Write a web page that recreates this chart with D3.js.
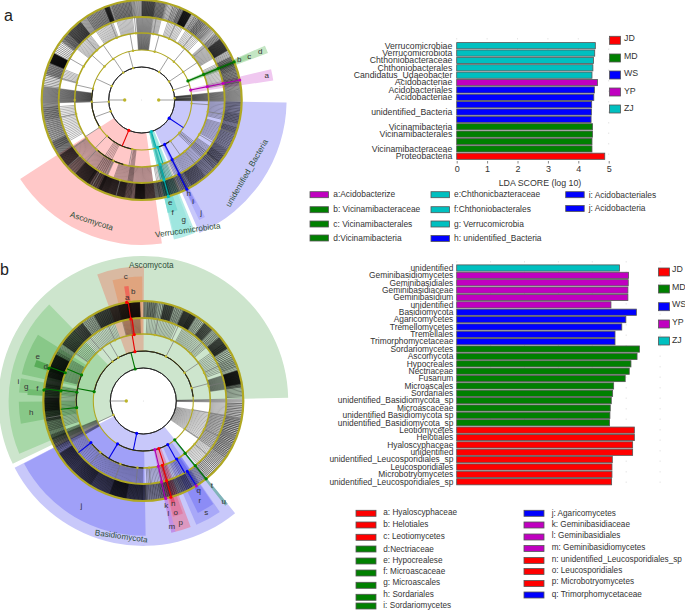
<!DOCTYPE html>
<html><head><meta charset="utf-8">
<script src="https://cdn.jsdelivr.net/npm/d3@7/dist/d3.min.js"></script>
<style>html,body{margin:0;padding:0;background:#fff}svg{display:block}text{font-family:"Liberation Sans",Arial,sans-serif}</style>
</head><body><svg id="c" width="685" height="610"></svg>
<script>
// ---------- bar data ----------
const groupColors = {JD:"#ff0000",MD:"#008000",WS:"#0000ff",YP:"#c000c0",ZJ:"#00c0c0"};
const groupNames = ["JD","MD","WS","YP","ZJ"];
const barLabelsA = ["Verrucomicrobiae","Verrucomicrobiota","Chthoniobacteraceae","Chthoniobacterales","Candidatus_Udaeobacter","Acidobacteriae","Acidobacteriales","Acidobacteriae","","unidentified_Bacteria","","Vicinamibacteria","Vicinamibacterales","","Vicinamibacteraceae","Proteobacteria"];
const barValuesA = [4.56,4.54,4.50,4.48,4.45,4.63,4.53,4.51,4.44,4.43,4.42,4.47,4.47,4.45,4.45,4.87];
const barGroupsA = ["ZJ","ZJ","ZJ","ZJ","ZJ","YP","WS","WS","WS","WS","WS","MD","MD","MD","MD","JD"];
const barLabelsB = ["unidentified","Geminibasidiomycetes","Geminibasidiales","Geminibasidiaceae","Geminibasidium","unidentified","Basidiomycota","Agaricomycetes","Tremellomycetes","Tremellales","Trimorphomycetaceae","Sordariomycetes","Ascomycota","Hypocreales","Nectriaceae","Fusarium","Microascales","Sordariales","unidentified_Basidiomycota_sp","Microascaceae","unidentified Basidiomycota sp","unidentified_Basidiomycota_sp","Leotiomycetes","Helotiales","Hyaloscyphaceae","unidentified","unidentified_Leucosporidiales_sp","Leucosporidiales","Microbotryomycetes","unidentified_Leucosporidiales_sp"];
const barValuesB = [4.80,5.07,5.06,5.05,5.05,4.55,5.30,4.99,4.87,4.67,4.67,5.39,5.32,5.14,5.09,4.97,4.63,4.60,4.56,4.53,4.52,4.51,5.24,5.24,5.19,5.19,4.59,4.58,4.58,4.57];
const barGroupsB = ["ZJ","YP","YP","YP","YP","YP","WS","WS","WS","WS","WS","MD","MD","MD","MD","MD","MD","MD","MD","MD","MD","MD","JD","JD","JD","JD","JD","JD","JD","JD"];
const axisTicksA = [0,1,2,3,4,5];
const axisTicksB = [0,1,2,3,4,5,6];
const legendA = [["a:Acidobacterize","YP"],["b: Vicinamibacteraceae","MD"],["c: Vicinamibacterales","MD"],["d:Vicinamibacteria","MD"],["e:Chthonicbazteraceae","ZJ"],["f:Chthoniobacterales","ZJ"],["g: Verrucomicrobia","ZJ"],["h: unidentified_Bacteria","WS"],["i: Acidobacteriales","WS"],["j: Acidobacteria","WS"]];
const legendB = [["a: Hyaloscyphaceae","JD"],["b: Helotiales","JD"],["c: Leotiomycetes","JD"],["d:Nectriaceae","MD"],["e: Hypocrealese","MD"],["f: Microascaceae","MD"],["g: Microascales","MD"],["h: Sordariales","MD"],["i: Sordariomycetes","MD"],["j: Agaricomycetes","WS"],["k: Geminibasidiaceae","YP"],["l: Geminibasidiales","YP"],["m: Geminibasidiomycetes","YP"],["n: unidentified_Leucosporidiales_sp","JD"],["o: Leucosporidiales","JD"],["p: Microbotryomycetes","JD"],["q: Trimorphomycetaceae","WS"]];

// ---------- cladogram data (degrees clockwise from north; level = ring) ----------
// [start, end, level where lines start, outer level, fill, opacity]
const sectorsA = [
 [91,156.5,1,7.7,"#c8c8fa",1],[172,237,1,7.7,"#ffc8c8",1],[158,167,1,7.6,"#b4ece8",1],[159,166.5,1,7.3,"#9fe6df",1],
 [76.6,81.6,2,7,"#f0c8f0",1],[66.2,69.6,2,7.1,"#c4e6c4",1],[66.7,69,2,6,"#a4d8a4",1],[67.2,68.4,2,5,"#5aa85a",1],
 [162,167,1,6,"#7cdcd4",1],[163.4,165.6,1,5.1,"#3cbcb4",1],
 [151.6,154.4,2,7,"#b0b0fa",1],[152.2,154,2,6,"#9090f4",1],[152.8,153.6,2,5,"#6060f0",1]];
const sectorsB = [
 [-115.7,88.7,1,7.7,"#cde5cd",1],[140.7,242.6,1,7.7,"#c8c8fa",1],
 [179,242.3,2,7.1,"#a0a0f8",1],[145.4,156.8,2,7.1,"#a8a8f8",1],[145.8,154,3,6.5,"#8c8cf6",1],[147,149.5,3,5.4,"#7070f0",1],
 [159.4,166.7,2,7.1,"#dc98c0",1],[160.6,165.6,3,6.2,"#e07098",.7],[162.6,164.6,3,5.4,"#e04060",.7],
 [166.2,168,2,7.1,"#c090e8",1],[140.6,142,2,7,"#80b4b8",1],
 [-20,0.3,2,7.1,"#d9b9a1",1],[-14.3,-0.5,3,6.5,"#e0a078",.85],[-9.5,-7.3,3,6,"#ee6a5a",1],
 [247,315.7,2,7.1,"#a8d8a8",1],[282.4,302.2,3,6.5,"#88c888",1],[287.5,291,4,5.9,"#58ac58",1],[273.9,280.5,3,6.5,"#88c888",1],[273,276,4,6,"#70bc70",1],[259.5,269.7,3,6.5,"#88c888",1]];
// [start, end, number of lines, level they start from]
const fansA = [[0,8,22,4],[8,15,14,4],[15,22,9,4],[22,25,7,4],[25,30,40,4],[30,35,8,4],[35,40,13,4],[40,46,12,4],[46,52,9,4],[52,60,40,4],[60,64,6,4],[64,72,20,4],[72,84,24,4],[91,98,10,4],[98,110,24,4],[110,120,15,4],[120,130,30,4],[130,140,20,4],[140,150,30,4],[150,157,14,4],[157,168,32,4],[168,172,14,4],[172,178,22,4],[178,184,40,4],[184,190,12,4],[190,200,50,4],[200,206,40,4],[206,212,18,4],[212,222,60,4],[222,228,18,4],[228,236,40,4],[236,245,27,4],[245,258,20,4],[258,268,20,4],[278,285,7,4],[285,292,14,4],[292,298,60,4],[298,306,8,4],[306,312,18,4],[312,322,50,4],[322,330,16,4],[330,338,16,4],[338,341,20,4],[341,350,18,4],[350,356,12,4],
 [8,14,8,3],[18,30,12,3],[32,44,12,3],[48,60,22,3],[64,80,18,3],[91,104,14,3],[106,120,16,3],[124,150,34,3],[150,170,20,3],[172,200,40,3],[204,236,54,3],[240,266,22,3],[284,292,8,3],[308,322,20,3],[326,340,16,3],[342,354,14,3],
 [356,368,30,2],[84,91,22,1],[268,278,34,2],[206,214,6,2],[186,190,5,2],[128,134,5,2]];
const fansB = [[0,8,16,4],[8,12,4,4],[12,18,24,4],[18,24,8,4],[24,32,44,4],[32,38,6,4],[38,44,26,4],[44,50,8,4],[50,58,44,4],[58,64,6,4],[64,72,10,4],[72,80,46,4],[80,88,10,4],[91,110,18,4],[110,125,16,4],[125,140,18,4],[140,150,16,4],[150,160,24,4],[160,170,22,4],[170,178,14,4],[178,190,46,4],[190,200,60,4],[200,212,44,4],[212,225,64,4],[225,238,60,4],[238,247,12,4],[247,258,22,4],[258,264,24,4],[264,272,48,4],[272,278,24,4],[278,284,30,4],[284,298,90,4],[298,305,12,4],[305,315,46,4],[315,322,36,4],[322,330,12,4],[330,340,46,4],[340,350,56,4],[350,358,50,4],
 [2,24,20,3],[28,50,24,3],[54,70,14,3],[72,82,28,3],[91,140,60,3],[150,178,26,3],[180,240,76,3],[242,250,18,3],[252,280,28,3],[284,300,20,3],[305,340,32,3],[345,358,18,3],
 [100,125,22,1],[88.5,91,5,1],[240,248,18,2]];
// [level, angle, colour key]
const nodesA = [[0,270],[0,90],
 [1,203,"JD"],[1,163,"ZJ"],[1,123.5,"WS"],[1,87],[1,72.5],[1,56],[1,32],[1,345],[1,326],[1,295],[1,267],[1,250],
 [2,224],[2,191],[2,161.5,"ZJ"],[2,152.6,"WS"],[2,145],[2,131],[2,94],[2,78.5,"YP"],[2,67.6,"MD"],[2,56],[2,40],[2,15],[2,350],[2,325],[2,312],[2,283],[2,237],[2,268],
 [3,205],[3,222],[3,235],[3,164,"ZJ"],[3,153,"WS"],[3,140],[3,121],[3,100],[3,78.5,"YP"],[3,67.6,"MD"],[3,50],[3,38],[3,24],[3,10],[3,355],[3,338],[3,318],[3,300],[3,285],[3,258],[3,270],
 [4,195],[4,210],[4,228],[4,164.4,"ZJ"],[4,153.3,"WS"],[4,130],[4,110],[4,78.5,"YP"],[4,67.6,"MD"],
 [5,164.6,"ZJ"],[5,153.2,"WS"],[5,78.5,"YP"],[5,67.6,"MD"]];
const nodesB = [[0,270],
 [1,345.7,"MD"],[1,191.5,"WS"],[1,245],
 [2,280.8,"MD"],[2,350.4,"JD"],[2,211,"WS"],[2,150.7,"WS"],[2,162,"JD"],[2,166.6,"YP"],[2,141,"MD"],[2,322],[2,330],[2,27],[2,55.6],[2,75],[2,124],[2,100],
 [3,277.5,"MD"],[3,292.9,"MD"],[3,264.3,"MD"],[3,352.2,"JD"],[3,150,"WS"],[3,163.5,"JD"],[3,167,"YP"],[3,141.4,"MD"],[3,231.5,"WS"],[3,305],[3,320],[3,335],[3,10],[3,25],[3,45],[3,65],[3,77],[3,100],[3,115],[3,130],[3,200],[3,185],[3,220],[3,175],
 [4,277,"MD"],[4,289.9,"MD"],[4,351.3,"JD"],[4,148,"WS"],[4,163.7,"JD"],[4,167.3,"YP"],[4,141.2,"MD"],[4,260],
 [5,276.3,"MD"],[5,289,"MD"],[5,350.4,"JD"],[5,148,"YP"],[5,164,"JD"],[5,167,"YP"],[5,141.1,"MD"]];
// [level, start, end] black joining arcs
const arcsA = [[1,0,360],[2,237,283],[2,191,224],[3,196,222],[2,145,162]];
const arcsB = [[1,0,360],[2,281,445],[2,150,211],[3,180,231],[3,264,293]];
// [text, x-offset, y-offset from centre, rotation]
const cladeTextA = [["a",125,-24.5,0],["b",97.5,-40.5,0],["c",107.5,-43.5,0],["d",118.5,-49,0],["e",28.5,102,0],["f",31,112,0],["g",42,119,0],["h",47,93.5,0],["i",51.5,101.5,0],["j",59.5,112,0]];
const cladeTextB = [["a",-16,-104,0],["b",-10,-110,0],["c",-17.5,-125,0],["d",-97.5,-35,0],["e",-105.5,-45,0],["f",-106,-13,0],["g",-117,-15,0],["h",-112,11.5,0],["i",-125,-19.5,0],["j",-62,104,0],["k",23,104,0],["l",25,112,0],["m",28.5,125,0],["n",30,102.5,0],["o",32.5,111.5,0],["p",37.5,121,0],["q",55.5,89,0],["r",56.5,99,0],["s",63,111,0],["t",68.5,84,0],["u",80.5,100.5,0]];
const cladeNamesA = [["Ascomycota",-50,121,18],["unidentified_Bacteria",105,73,-60],["Verrucomicrobiota",46,130,-8]];
const cladeNamesB = [["Ascomycota",8,-136,0],["Basidiomycota",-22,135,8]];

// ---------- drawing ----------
const svg = d3.select("#c");
const rad = d3.scaleLinear().domain([0,1,2,3,4,5,6,7]).range([17,33,50,67,83,100,116,133]);
const rr = d3.scaleLinear().domain([0,360]).range([0,2*Math.PI]);
const arcGen = d3.arc();
const OLIVE = "#b0a822";

function clade(cx,cy,sectors,fans,nodes,arcs,labels,names){
  const g = svg.append("g").attr("transform",`translate(${cx},${cy})`);
  const pt = (r,a)=>[r*Math.sin(rr(a)),-r*Math.cos(rr(a))];
  g.selectAll("path.s").data(sectors).join("path").attr("d",d=>arcGen({innerRadius:rad(d[2]),outerRadius:rad(d[3]),startAngle:rr(d[0]),endAngle:rr(d[1])})).attr("fill",d=>d[4]).attr("opacity",d=>d[5]);
  g.append("circle").attr("r",rad(1)).attr("fill","#fff");
  // leaf lines
  fans.forEach(f=>{
    const step=(f[1]-f[0])/f[2];
    const angles=d3.range(f[2]).map(i=>f[0]+(i+.5)*step);
    g.append("g").selectAll("line").data(angles).join("line")
      .attr("x1",a=>pt(rad(f[3]),a)[0]).attr("y1",a=>pt(rad(f[3]),a)[1])
      .attr("x2",a=>pt(rad(5),a)[0]).attr("y2",a=>pt(rad(5),a)[1])
      .attr("stroke","#000").attr("stroke-width",.5).attr("stroke-opacity",f[3]<4?.6:.85);
  });
  // olive rings
  [[2,1.1],[3,1.5],[4,1.8],[5,2.2]].forEach(([l,w])=>g.append("circle").attr("r",rad(l)).attr("fill","none").attr("stroke",OLIVE).attr("stroke-width",w));
  // joining arcs
  g.selectAll("path.j").data(arcs).join("path").attr("d",d=>arcGen({innerRadius:rad(d[0]),outerRadius:rad(d[0]),startAngle:rr(d[1]),endAngle:rr(d[2])})).attr("fill","none").attr("stroke","#222").attr("stroke-width",.9);
  // spokes
  g.selectAll("line.sp").data(nodes.filter(d=>d[0]<5)).join("line")
    .attr("x1",d=>pt(rad(d[0]),d[1])[0]).attr("y1",d=>pt(rad(d[0]),d[1])[1])
    .attr("x2",d=>pt(rad(d[0]+1),d[1])[0]).attr("y2",d=>pt(rad(d[0]+1),d[1])[1])
    .attr("stroke",d=>d[2]?d3.color(groupColors[d[2]]).darker(.3):"#777").attr("stroke-width",d=>d[2]?1.1:.7);
  // nodes
  g.selectAll("circle.n").data(nodes).join("circle")
    .attr("cx",d=>pt(rad(d[0]),d[1])[0]).attr("cy",d=>pt(rad(d[0]),d[1])[1])
    .attr("r",d=>d[2]?1.6:(d[0]==0?1.7:1.2)).attr("fill",d=>d[2]?groupColors[d[2]]:"#bdb52a");
  g.append("circle").attr("r",.4).attr("fill","#bbb");
  g.selectAll("text.l").data(labels).join("text").attr("x",d=>d[1]).attr("y",d=>d[2]).attr("dy",".35em").attr("text-anchor","middle").attr("font-size",8).attr("fill","#333").text(d=>d[0]);
  g.selectAll("text.n").data(names).join("text").attr("text-anchor","middle").attr("dy",".35em").attr("font-size",8.2).attr("fill","#2f4f3a")
    .attr("transform",d=>`translate(${d[1]},${d[2]}) rotate(${d[3]})`).text(d=>d[0]);
}
clade(141.7,100,sectorsA,fansA,nodesA,arcsA,cladeTextA,cladeNamesA);
clade(143.3,401,sectorsB,fansB,nodesB,arcsB,cladeTextB,cladeNamesB);

svg.append("text").attr("x",4).attr("y",21).attr("font-size",16).attr("fill","#222").text("a");
svg.append("text").attr("x",0).attr("y",275).attr("font-size",16).attr("fill","#222").text("b");

function bars(x0,pxPerUnit,ticks,y0,stepY,labels,values,groups,labelX,top,bottom,showAxis,fs){
  const x=d3.scaleLinear().domain([0,1]).range([x0,x0+pxPerUnit]);
  const y=d3.scaleLinear().domain([0,1]).range([y0,y0+stepY]);
  const g=svg.append("g");
  g.selectAll("line.g").data(ticks).join("line").attr("x1",d=>x(d)).attr("x2",d=>x(d)).attr("y1",top).attr("y2",bottom).attr("stroke","#ccc").attr("stroke-width",.5).attr("stroke-dasharray","1.5 9");
  g.selectAll("rect").data(values).join("rect").attr("x",x(0)).attr("y",(d,i)=>y(i)-3.1).attr("width",d=>x(d)-x(0)).attr("height",6.2).attr("fill",(d,i)=>groupColors[groups[i]]).attr("stroke","#555").attr("stroke-width",.8);
  g.selectAll("text").data(labels).join("text").attr("x",labelX).attr("y",(d,i)=>y(i)).attr("dy",".33em").attr("text-anchor","end").attr("font-size",fs).attr("fill","#333").text(d=>d);
  if(showAxis){
    const ax=svg.append("g").attr("transform",`translate(0,${bottom})`).call(d3.axisBottom(x).tickValues(ticks).tickFormat(d3.format("d")).tickSize(2.5).tickPadding(2));
    ax.select(".domain").remove();
    ax.selectAll("line").attr("stroke","#888");
    ax.selectAll("text").attr("font-size",9).attr("fill","#333").attr("font-family","Liberation Sans");
  }
}
bars(456.7,30.4,axisTicksA,45.7,7.37,barLabelsA,barValuesA,barGroupsA,452.3,38,161,true,8.7);
bars(456.7,33.9,axisTicksB,268,7.37,barLabelsB,barValuesB,barGroupsB,453.3,261,488,false,8.4);
svg.append("text").attr("x",540).attr("y",186).attr("text-anchor","middle").attr("font-size",8.8).attr("fill","#333").text("LDA SCORE (log 10)");

function legend(items,xS,wS,hS,xT,fs,ys,tys){
  const g=svg.append("g");
  g.selectAll("rect").data(items).join("rect").attr("x",xS).attr("y",(d,i)=>ys[i]-hS/2).attr("width",wS).attr("height",hS).attr("fill",d=>groupColors[d[1]]).attr("stroke","#555").attr("stroke-width",.8);
  g.selectAll("text").data(items).join("text").attr("x",xT).attr("y",(d,i)=>tys[i]).attr("dy",".33em").attr("font-size",fs).attr("fill","#333").text(d=>d[0]);
}
const asPair=()=>groupNames.map(g=>[g,g]);
legend(asPair(),609.5,11,8,624,8.8,[40.3,58,75,92,109],[38.3,56,73.5,91,108.5]);
legend(asPair(),658.5,11,8,672,8.8,[272,289,306.7,324,341],[269.5,287,304.5,322,340]);
legend(legendA.slice(0,4),310,18.5,6,333.3,8.4,[194.7,209.7,224,238],[194.5,209.5,224.5,238]);
legend(legendA.slice(4,8),431,18.5,6,454,8.4,[194.7,209.7,224,238.5],[194,209.5,224,238]);
legend(legendA.slice(8),565.7,18.5,6,588.7,8.4,[194.7,208.5],[195,208]);
legend(legendB.slice(0,9),356,20,6,383.3,8.2,[513.3,525,537.3,549,561,573,585.3,597.3,606],[512.5,524.5,536.5,549.5,560,571.5,582.5,594.5,605.5]);
legend(legendB.slice(9),524,20,6,551.7,8.2,[513.3,525,537,548.5,560.5,571.5,583.5,595],[513.3,524.5,535.5,547.5,559,570.5,581.5,594.5]);
</script></body></html>
